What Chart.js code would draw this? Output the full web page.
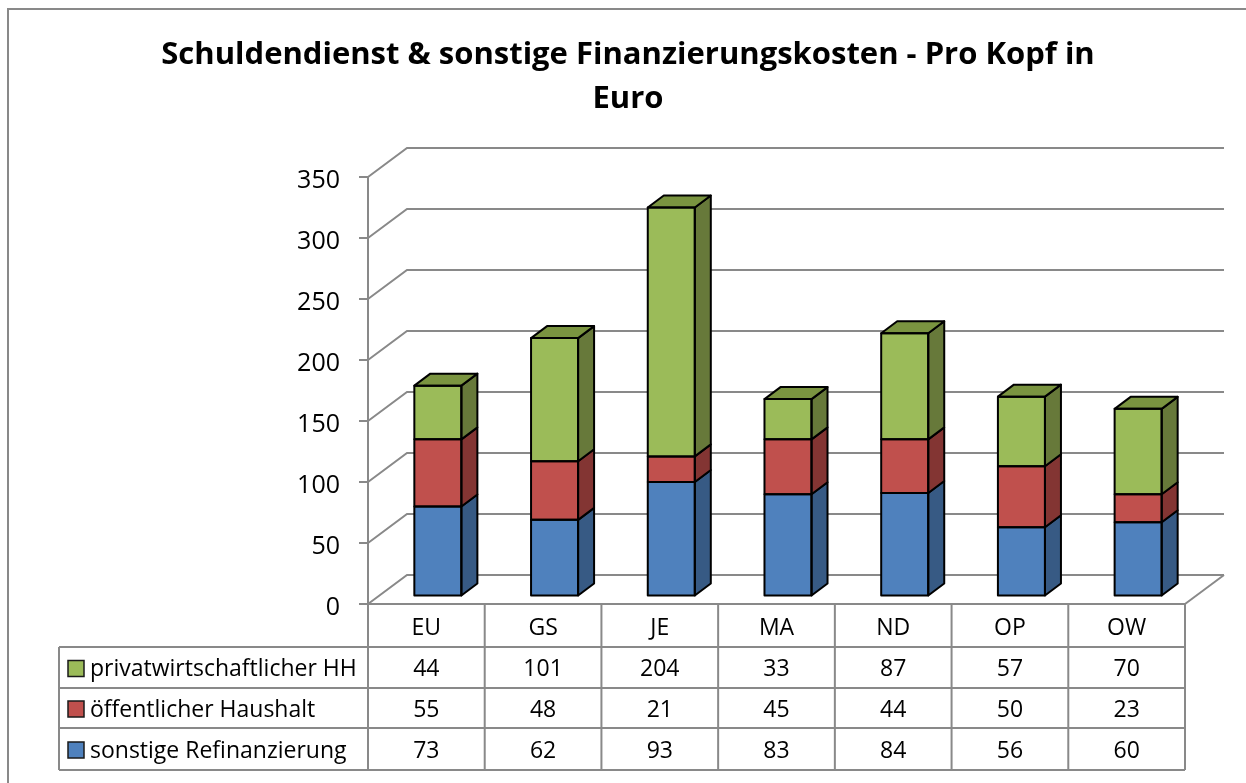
<!DOCTYPE html>
<html>
<head>
<meta charset="utf-8">
<script src="https://cdn.jsdelivr.net/npm/chart.js@4/dist/chart.umd.min.js"></script>
<style>
  body { margin: 0; background: #fff; }
  #wrap { width: 1246px; height: 783px; position: relative; }
</style>
</head>
<body>
<div id="wrap"><canvas id="myChart"></canvas></div>
<script>
var categories = ['EU', 'GS', 'JE', 'MA', 'ND', 'OP', 'OW']
var privatHH = [44, 101, 204, 33, 87, 57, 70]
var oeffentlich = [55, 48, 21, 45, 44, 50, 23]
var refinanz = [73, 62, 93, 83, 84, 56, 60]
var yTicks = [0, 50, 100, 150, 200, 250, 300, 350]

// front colour, side colour, top colour
var blue = ['#4f81bd', '#375a84', '#4a6f9e']
var red = ['#c0504d', '#833533', '#9c403e']
var green = ['#9bbb59', '#67793a', '#7a9440']

var GRID = '#898989'
var FONT = "'Open Sans'"
var DEPTH_X = 39, DEPTH_Y = -29   // back wall offset
var BAR_DX = 16, BAR_DY = -12     // bar depth
var SHIFT_X = 11.5, SHIFT_Y = -8.5 // bars sit in the middle of the floor

function poly(ctx, pts, fill) {
    ctx.beginPath()
    ctx.moveTo(pts[0][0], pts[0][1])
    for (var i = 1; i < pts.length; i++) ctx.lineTo(pts[i][0], pts[i][1])
    ctx.closePath()
    if (fill) { ctx.fillStyle = fill; ctx.fill() }
    ctx.stroke()
}

var threeD = {
    id: 'threeD',
    beforeDraw: function (chart) {
        var ctx = chart.ctx
        ctx.save()
        ctx.strokeStyle = GRID
        ctx.lineWidth = 2
        ctx.strokeRect(8, 9, 1400, 1000)
        ctx.restore()
    },
    beforeDatasetsDraw: function (chart) {
        var ctx = chart.ctx
        var a = chart.chartArea
        var y = chart.scales.y
        ctx.save()
        ctx.strokeStyle = GRID
        ctx.lineWidth = 2
        ctx.lineJoin = 'miter'
        // back wall grid lines + side wall diagonals
        yTicks.forEach(function (v) {
            var py = y.getPixelForValue(v)
            ctx.beginPath()
            ctx.moveTo(a.left, py)
            ctx.lineTo(a.left + DEPTH_X, py + DEPTH_Y)
            ctx.lineTo(a.right + DEPTH_X, py + DEPTH_Y)
            ctx.stroke()
            // tick mark
            ctx.beginPath()
            ctx.moveTo(a.left - 9, py)
            ctx.lineTo(a.left, py)
            ctx.stroke()
        })
        // floor right edge
        ctx.beginPath()
        ctx.moveTo(a.right + DEPTH_X, a.bottom + DEPTH_Y)
        ctx.lineTo(a.right, a.bottom)
        ctx.stroke()
        // front axis
        ctx.beginPath()
        ctx.moveTo(a.left, y.getPixelForValue(350))
        ctx.lineTo(a.left, a.bottom)
        ctx.stroke()
        ctx.restore()

        ctx.save()
        ctx.translate(SHIFT_X, SHIFT_Y)
    },
    afterDatasetsDraw: function (chart) {
        var ctx = chart.ctx
        var sets = chart.data.datasets
        ctx.strokeStyle = '#000'
        ctx.lineWidth = 2
        ctx.lineJoin = 'round'
        sets.forEach(function (ds, di) {
            var meta = chart.getDatasetMeta(di)
            meta.data.forEach(function (bar) {
                var p = bar.getProps(['x', 'y', 'base', 'width'], true)
                var l = p.x - p.width / 2, r = p.x + p.width / 2
                var t = Math.min(p.y, p.base), b = Math.max(p.y, p.base)
                poly(ctx, [[r, t], [r + BAR_DX, t + BAR_DY], [r + BAR_DX, b + BAR_DY], [r, b]], ds.sideColor)
                if (di === sets.length - 1) {
                    poly(ctx, [[l, t], [l + BAR_DX, t + BAR_DY], [r + BAR_DX, t + BAR_DY], [r, t]], ds.topColor)
                }
                ctx.strokeRect(l, t, p.width, b - t)
            })
        })
        ctx.restore()
    },
    afterDraw: function (chart) {
        var ctx = chart.ctx
        var a = chart.chartArea
        var x = chart.scales.x
        var colW = (a.right - a.left) / categories.length
        var tableLeft = 59
        var rows = [647, 688, 728, 770]
        var series = [
            ['privatwirtschaftlicher HH', privatHH, green[0]],
            ['öffentlicher Haushalt', oeffentlich, red[0]],
            ['sonstige Refinanzierung', refinanz, blue[0]]
        ]
        ctx.save()
        ctx.strokeStyle = GRID
        ctx.lineWidth = 2
        // horizontal lines
        ctx.beginPath()
        ctx.moveTo(a.left, a.bottom); ctx.lineTo(a.right, a.bottom)
        rows.forEach(function (ry) { ctx.moveTo(tableLeft, ry); ctx.lineTo(a.right, ry) })
        // vertical lines
        ctx.moveTo(tableLeft, rows[0]); ctx.lineTo(tableLeft, rows[3])
        for (var i = 0; i <= categories.length; i++) {
            var vx = a.left + i * colW
            ctx.moveTo(vx, a.bottom); ctx.lineTo(vx, rows[3])
        }
        ctx.stroke()

        ctx.fillStyle = '#000'
        ctx.font = '23px ' + FONT
        ctx.textAlign = 'center'
        ctx.textBaseline = 'middle'
        categories.forEach(function (c, i) {
            ctx.fillText(c, x.getPixelForValue(i), (a.bottom + rows[0]) / 2 + 3)
        })
        series.forEach(function (s, r) {
            var cy = (rows[r] + rows[r + 1]) / 2 + 2
            s[1].forEach(function (v, i) {
                ctx.fillStyle = '#000'
                ctx.textAlign = 'center'
                ctx.fillText(String(v), x.getPixelForValue(i), cy)
            })
            ctx.fillStyle = s[2]
            ctx.fillRect(68, cy - 9, 16, 16)
            ctx.strokeStyle = '#1a1a1a'
            ctx.lineWidth = 1.5
            ctx.strokeRect(68, cy - 9, 16, 16)
            ctx.fillStyle = '#000'
            ctx.textAlign = 'left'
            ctx.fillText(s[0], 90, cy)
        })
        ctx.restore()
    }
}

var ctx = document.getElementById('myChart').getContext('2d')
var chart = new Chart(ctx, {
    type: 'bar',
    data: {
        labels: categories,
        datasets: [{
            label: 'sonstige Refinanzierung',
            data: refinanz,
            backgroundColor: blue[0], sideColor: blue[1], topColor: blue[2]
        }, {
            label: 'öffentlicher Haushalt',
            data: oeffentlich,
            backgroundColor: red[0], sideColor: red[1], topColor: red[2]
        }, {
            label: 'privatwirtschaftlicher HH',
            data: privatHH,
            backgroundColor: green[0], sideColor: green[1], topColor: green[2]
        }]
    },
    options: {
        responsive: true,
        maintainAspectRatio: false,
        animation: false,
        datasets: {
            bar: { categoryPercentage: 1, barPercentage: 0.403, borderWidth: 0 }
        },
        layout: { padding: { left: 10, right: 0, top: 0, bottom: 179 } },
        plugins: {
            legend: { display: false },
            tooltip: { enabled: false },
            title: {
                display: true,
                text: ['Schuldendienst & sonstige Finanzierungskosten - Pro Kopf in', 'Euro'],
                color: '#000',
                font: { family: FONT, size: 31, weight: 'bold', lineHeight: 44 / 31 },
                padding: { top: 33, bottom: 56 }
            }
        },
        scales: {
            x: { stacked: true, display: false },
            y: {
                stacked: true,
                min: 0, max: 350,
                grid: { display: false, drawTicks: false },
                border: { display: false },
                ticks: { stepSize: 50, color: '#000', padding: 28, labelOffset: 4, font: { family: FONT, size: 25 } },
                afterFit: function (s) { s.width = 358 }
            },
            yR: {
                position: 'right',
                display: true,
                grid: { display: false, drawTicks: false },
                border: { display: false },
                ticks: { display: false },
                afterFit: function (s) { s.width = 61 }
            }
        }
    },
    plugins: [threeD]
})
</script>
</body>
</html>
